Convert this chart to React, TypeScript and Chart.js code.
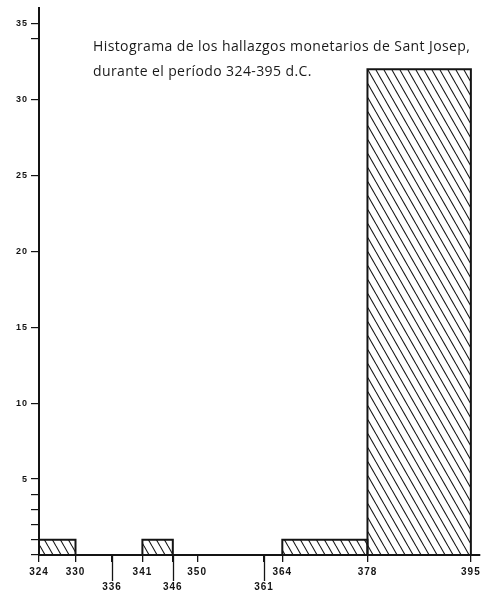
import React, { useEffect, useRef } from "react";
import { Chart, registerables } from "chart.js";

Chart.register(...registerables);

// Histogram bins (year ranges, d.C.) and coin counts
const binStarts = [324, 341, 364, 378];
const binEnds = [330, 346, 378, 395];
const binCounts = [1, 1, 1, 32];

// Axis ticks
const xTickValues = [324, 330, 336, 341, 346, 350, 361, 364, 378, 395];
const xLowerLabels = [336, 346, 361];
const yTickValues = [0, 1, 2, 3, 4, 5, 10, 15, 20, 25, 30, 34, 35];
const yLabeled = [5, 10, 15, 20, 25, 30, 35];

const titleLines = [
  "Histograma de los hallazgos monetarios de Sant Josep,",
  "durante el período 324-395 d.C.",
];

const INK = "#141414";

function makeHatch(): CanvasPattern | string {
  const c = document.createElement("canvas");
  const w = 8;
  const h = 14;
  c.width = w;
  c.height = h;
  const g = c.getContext("2d");
  if (!g) return "rgba(0,0,0,0)";
  g.strokeStyle = INK;
  g.lineWidth = 1.1;
  for (const off of [-w, 0, w]) {
    g.beginPath();
    g.moveTo(off, 0);
    g.lineTo(off + w, h);
    g.stroke();
  }
  return g.createPattern(c, "repeat") || INK;
}

export default function App() {
  const canvasRef = useRef<HTMLCanvasElement | null>(null);

  useEffect(() => {
    document.body.style.margin = "0";
    const canvas = canvasRef.current;
    if (!canvas) return;
    const hatch = makeHatch();

    const datasets = binStarts.map((s, i) => ({
      data: [
        { x: s, y: 0 },
        { x: s, y: binCounts[i] },
        { x: binEnds[i], y: binCounts[i] },
        { x: binEnds[i], y: 0 },
      ],
      showLine: true,
      fill: "origin" as const,
      backgroundColor: hatch as any,
      borderColor: INK,
      borderWidth: 2,
      pointRadius: 0,
      pointHoverRadius: 0,
      tension: 0,
    }));

    const spacing = {
      id: "spacing",
      beforeDraw(chart: any) {
        (chart.ctx as any).letterSpacing = "1px";
      },
      beforeDatasetsDraw(chart: any) {
        (chart.ctx as any).letterSpacing = "0px";
      },
    };

    const longTicks = {
      id: "longTicks",
      afterDraw(chart: any) {
        const { ctx, chartArea } = chart;
        const xs = chart.scales.x;
        ctx.save();
        ctx.strokeStyle = INK;
        ctx.lineWidth = 1.3;
        for (const v of xLowerLabels) {
          const px = Math.round(xs.getPixelForValue(v)) + 0.5;
          ctx.beginPath();
          ctx.moveTo(px, chartArea.bottom);
          ctx.lineTo(px, chartArea.bottom + 26);
          ctx.stroke();
        }
        ctx.restore();
      },
    };

    const chart = new Chart(canvas, {
      type: "scatter",
      data: { datasets: datasets as any },
      plugins: [spacing, longTicks],
      options: {
        responsive: false,
        animation: false,
        layout: { padding: { top: 5, right: 9, left: 0, bottom: 0 } },
        plugins: {
          legend: { display: false },
          tooltip: { enabled: false },
          title: { display: false },
        },
        scales: {
          x: {
            type: "linear",
            min: 324,
            max: 396.5,
            afterBuildTicks(scale: any) {
              scale.ticks = xTickValues.map((v) => ({ value: v }));
            },
            afterFit(scale: any) {
              scale.height = 43;
            },
            border: { display: true, color: INK, width: 2 },
            grid: {
              drawOnChartArea: false,
              drawTicks: true,
              tickLength: 7,
              color: INK,
              lineWidth: 1.3,
            },
            ticks: {
              autoSkip: false,
              maxRotation: 0,
              padding: 3,
              color: INK,
              font: { family: "'Liberation Sans', Arial, sans-serif", size: 10, weight: "bold", lineHeight: 1.5 },
              callback: (v: any) =>
                xLowerLabels.includes(Number(v)) ? ["", String(v)] : String(v),
            },
          },
          y: {
            type: "linear",
            min: 0,
            max: 36,
            afterBuildTicks(scale: any) {
              scale.ticks = yTickValues.map((v) => ({ value: v }));
            },
            afterFit(scale: any) {
              scale.width = 39;
            },
            border: { display: true, color: INK, width: 2 },
            grid: {
              drawOnChartArea: false,
              drawTicks: true,
              tickLength: 8,
              color: INK,
              lineWidth: 1.2,
            },
            ticks: {
              autoSkip: false,
              padding: 3,
              color: INK,
              font: { family: "'Liberation Sans', Arial, sans-serif", size: 9, weight: "bold" },
              callback: (v: any) => (yLabeled.includes(Number(v)) ? String(v) : ""),
            },
          },
        },
      },
    });
    return () => chart.destroy();
  }, []);

  return (
    <div style={{ position: "relative", width: 489, height: 598, background: "#fff" }}>
      <canvas ref={canvasRef} width={489} height={598} style={{ display: "block" }} />
      <div
        style={{
          position: "absolute",
          left: 93,
          top: 33,
          fontFamily: "'Open Sans', 'DejaVu Sans', sans-serif",
          fontSize: 14,
          letterSpacing: "0.4px",
          lineHeight: "25px",
          color: "#1a1a1a",
          whiteSpace: "nowrap",
        }}
      >
        {titleLines.map((t) => (
          <div key={t}>{t}</div>
        ))}
      </div>
    </div>
  );
}
